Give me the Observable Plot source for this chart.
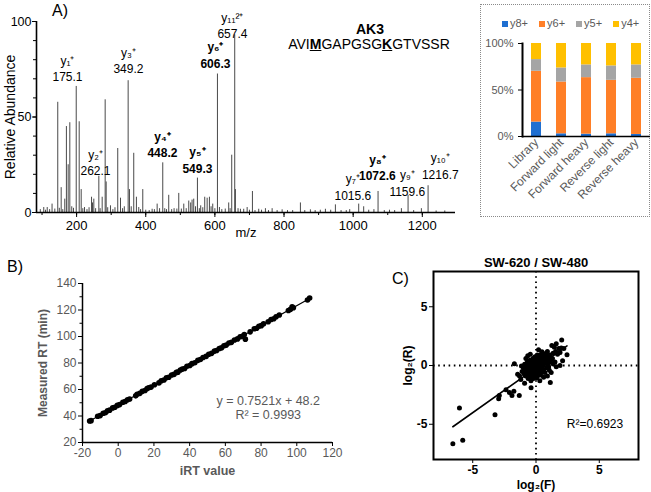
<!DOCTYPE html>
<html><head><meta charset="utf-8">
<script src="https://cdn.jsdelivr.net/npm/d3@7"></script>
<script src="https://cdn.jsdelivr.net/npm/@observablehq/plot@0.6"></script>
<style>
body{margin:0;background:#fff;}
#root{position:relative;width:651px;height:492px;overflow:hidden;font-family:"Liberation Sans",Arial,Helvetica,sans-serif;color:#000;}
.abs{position:absolute;}
.abs svg{display:block;}
.lbl{position:absolute;line-height:1;white-space:nowrap;}
</style></head><body><div id="root"></div>
<script>
const FONT = '"Liberation Sans", Arial, Helvetica, sans-serif';

// ---------- Panel A: MS/MS spectrum ----------
const peakMz = [95,105,110,115,122,129,137,145.5,150,155.4,160,165.8,170.5,175.6,180.4,186,191,198.9,207.5,213.3,218,222.9,230,236,243.2,246,249.8,255,264.3,268,274,282.6,285.5,290,298,305,311,319,327,333,338,349.1,352.9,358,365.3,373,379.8,385,391.4,400,410,418.5,425,433,440,449.2,455,460,466.5,475,482,490,495.5,503,510,517,524.4,530,534,538.8,544,549.5,555,559,565,570.6,577.6,584.2,589,593.8,600,607.4,613.2,620,630,640,644,648.7,657.4,659.4,667,673.9,683.4,693.3,700,708.6,716,726.8,735,746.2,755,765.6,780,794.5,810,825,847.4,860,876.3,890,905,919.7,935,948.6,965,980,990,1016,1030.4,1045,1060,1072,1090,1105,1120,1139.5,1158.8,1175,1197.3,1216.7,1240,1265];
const peakInt = [1.5,2.6,1.2,2.6,1.5,4.4,1.8,57.7,2.2,13,1.5,7,45,25,47,3,2.2,66,47.5,12,2,2.6,1.5,2.5,8,5,7,2,19,2,8,59,16,2.5,3.5,1.5,2.5,33.5,7.5,2,3,69,12,3,31,8,2.6,1.5,12,1.2,1,1.7,1.5,4.4,2,26,2,1.5,9,1.5,2,1.8,10,1.8,4.4,2,6,5,6.5,7,3,18,2,3.5,2.5,8,7.5,8,3,4.4,2,72.5,2.6,1.5,1.8,5,2,30,93,12,2,1.7,1.7,2.6,1.2,11,1,1.7,1.2,2,1,2,1,1.4,1,1,5,1,1.4,1,1.2,1.7,1.2,4,1,1,1.5,4.4,3,1.2,1.5,11,1,1.2,1,2,9,1,2,14,0.8,0.8];
const specTicksX = [200,400,600,800,1000,1200];
const specMinorX = [100,200,300,400,500,600,700,800,900,1000,1100,1200];
const specTicksY = [0,50,100];
const specMinorY = [0,10,20,30,40,50,60,70,80,90,100];
const ionNames = ["y₁⁺","y₂⁺","y₃⁺","y₄⁺","y₅⁺","y₆⁺","y₁₁²⁺","y₇⁺","y₈⁺","y₉⁺","y₁₀⁺"];
const ionMzText = ["175.1","262.1","349.2","448.2","549.3","606.3","657.4","1015.6","1072.6","1159.6","1216.7"];
const ionBold = [false,false,false,true,true,true,false,false,true,false,false];
// label anchor (m/z, relative abundance of the lower text line baseline)
const ionLabelMz = [173.6,254.6,350,448.3,549.5,601.6,650.7,999,1070,1156.6,1252];
const ionLabelAb = [68.6,19.4,72.8,28.8,20.9,75.9,91.1,6.8,16.8,8.9,17.8];

// ---------- Inset: fragment ion ratios ----------
const barCats = ["Library","Forward light","Forward heavy","Reverse light","Reverse heavy"];
const barSeries = ["y8+","y6+","y5+","y4+"];
const barColors = ["#1F6FD1","#FF7F27","#A5A5A5","#FFC000"];
const y8Vals = [15.5,2.9,2.5,2.9,2.2];
const y6Vals = [54.6,55.7,60.8,57.5,60.4];
const y5Vals = [12.6,15.1,13.7,15.5,14.4];
const y4Vals = [17.3,26.3,23.0,24.1,23.0];

// ---------- Panel B: iRT calibration ----------
const bIRT = [-16.0,-15.2,-11.5,-10.1,-8.4,-7.2,-6.0,-4.8,-3.1,-1.9,-0.5,0.8,2.6,3.9,5.2,6.4,9.8,10.6,12.1,13.5,15.0,16.2,17.1,18.4,20.3,22.8,24.1,25.6,27.0,28.3,29.9,31.2,32.6,33.4,34.8,35.9,37.2,38.5,40.1,41.3,42.9,44.6,46.0,47.5,49.2,50.7,52.3,53.9,55.1,56.6,57.8,59.2,60.5,62.0,63.4,65.1,66.8,68.3,69.5,70.6,71.2,73.9,76.2,77.5,78.8,80.1,81.4,84.0,85.6,87.1,88.4,90.2,95.3,96.5,97.4,98.1,106.0,107.2];
const bRT = [36.2,36.5,39.8,40.3,42.1,42.5,44.0,44.4,46.1,46.6,48.0,48.6,50.4,51.0,52.3,52.8,55.2,56.4,57.1,58.6,59.3,60.7,61.3,61.8,63.6,65.0,66.6,67.2,68.8,69.3,70.9,71.4,72.9,73.1,74.7,75.4,75.9,77.5,78.1,79.5,80.2,82.0,82.6,84.2,85.0,86.6,87.3,89.0,89.4,91.0,91.4,93.0,93.5,95.1,95.6,97.4,98.2,99.8,100.2,101.5,98.0,103.5,105.8,106.2,107.7,108.2,109.6,111.1,112.8,113.4,114.9,116.2,119.6,120.5,122.4,121.7,127.6,129.0];
const bTicksX = [-20,0,20,40,60,80,100,120];
const bTicksY = [20,40,60,80,100,120,140];
const bMinorY = [30,50,70,90,110,130];
const bEquation = "y = 0.7521x + 48.2\nR² = 0.9993";

// ---------- Panel C: log2 ratios ----------
const cF = [-6.57,-5.79,-6.05,-3.24,-2.95,-2.9,-2.37,-2.1,-1.75,-1.9,-1.32,-1.71,-1.45,-1.2,-0.39,1.13,-0.9,
 2.03,1.6,1.25,1.45,1.8,2.0,2.2,2.45,1.9,1.7,1.55,1.35,2.1,1.9,1.5,1.6,1.3,1.1,0.9,0.47,0.2,-0.65,-0.8,-0.45,1.2,0.9,0.6,0.3,-0.2,
 -1.1,-1.0,-0.95,-0.9,-0.85,-0.8,-0.75,-0.7,-0.68,-0.6,-0.58,-0.55,-0.5,-0.48,-0.45,-0.42,-0.4,-0.35,-0.33,-0.3,-0.28,-0.25,-0.22,-0.2,-0.18,-0.15,-0.12,-0.1,-0.08,-0.05,-0.03,0.0,0.02,0.05,0.07,0.1,0.12,0.15,0.18,0.2,0.22,0.25,0.28,0.3,0.33,0.35,0.38,0.4,0.43,0.45,0.48,0.5,0.55,0.58,0.6,0.65,0.68,0.7,0.75,0.8,0.85,0.9,0.95,1.0,1.05,1.1,1.2,-0.62,-0.15,0.05,0.25,-0.4,0.7,-1.3,-1.15,0.15,-0.5,0.6,0.35,-0.25,0.85,0.45,-0.05,1.35,1.0,-0.7,0.1,0.55];
const cR = [-6.65,-6.37,-3.62,-4.19,-2.83,-2.55,-2.07,-2.3,-2.2,-2.55,-2.55,0.14,-0.75,-1.2,-1.89,-1.44,-1.5,
 2.18,1.85,1.7,1.55,1.45,1.5,1.45,0.91,1.1,0.95,1.2,1.05,0.4,0.0,0.3,-0.1,0.6,0.9,1.2,1.17,1.35,0.82,0.6,0.95,-0.6,-0.9,-1.0,-1.3,-1.1,
 -0.5,-0.2,-0.7,0.1,-0.4,-0.9,-0.1,-0.55,0.3,-0.3,-0.8,0.05,-0.45,0.45,-0.15,-0.65,0.2,-0.35,-1.0,0.0,-0.55,0.6,-0.25,0.3,-0.7,-0.1,-0.45,0.15,0.75,-0.3,-0.85,0.05,-0.15,0.4,-0.5,-0.05,0.2,-0.3,0.6,-0.7,0.05,-0.2,0.35,-0.45,0.9,0.1,-0.1,0.5,-0.6,0.25,-0.25,0.7,0.0,0.4,-0.35,0.15,0.85,-0.6,0.3,0.6,-0.2,0.45,0.1,0.75,-0.4,0.3,0.5,-1.1,0.45,-1.05,0.8,-1.3,1.0,-0.9,-0.05,-0.85,-0.05,0.55,-0.8,-0.9,0.9,1.0,0.55,0.15,-0.1,0.0,0.9,-0.5];
const cTicks = [-5,0,5];

const root = document.getElementById("root");
const plain = d => String(d);
function place(node, left, top, w, h){
  const d = document.createElement("div");
  d.className = "abs";
  d.style.left = left+"px"; d.style.top = top+"px";
  d.style.width = w+"px"; d.style.height = h+"px";
  d.appendChild(node); root.appendChild(d); return d;
}
function label(html, left, top, size, extra){
  const d = document.createElement("div");
  d.className = "lbl";
  d.style.left = left+"px"; d.style.top = top+"px"; d.style.fontSize = size+"px";
  if (extra) d.style.cssText += extra;
  d.innerHTML = html; root.appendChild(d); return d;
}
const baseStyle = {fontFamily: FONT, background: "transparent", color: "#000", overflow: "visible"};

// ---- A ----
const spectrum = peakMz.map((mz,i)=>({mz, ab: peakInt[i]}));
const ions = ionNames.map((n,i)=>({text: n+"\n"+ionMzText[i], x: ionLabelMz[i], y: ionLabelAb[i], bold: ionBold[i]}));
const plotA = Plot.plot({
  width: 470, height: 245, marginLeft: 36, marginRight: 15, marginTop: 21, marginBottom: 33,
  style: {...baseStyle, fontSize: "13px"},
  x: {domain: [84, 1296]}, y: {domain: [0, 100]},
  marks: [
    Plot.ruleX(spectrum, {x: "mz", y1: 0, y2: "ab", stroke: "#4a4a4a", strokeWidth: 1}),
    Plot.axisX({ticks: specMinorX, tickSize: 3, tickFormat: () => "", label: null}),
    Plot.axisX({ticks: specTicksX, tickSize: 5, tickPadding: 3, tickFormat: plain, fontSize: 13, label: null}),
    Plot.axisY({ticks: specMinorY, tickSize: 3, tickFormat: () => "", label: null}),
    Plot.axisY({ticks: specTicksY, tickSize: 4, tickPadding: 1, tickFormat: plain, fontSize: 12.5, label: null}),
    Plot.ruleY([0], {strokeWidth: 1.6}),
    Plot.ruleX([84], {strokeWidth: 1.6}),
    Plot.text(ions.filter(d => !d.bold), {x: "x", y: "y", text: "text", lineAnchor: "bottom", lineHeight: 1.35, fontSize: 12}),
    Plot.text(ions.filter(d => d.bold), {x: "x", y: "y", text: "text", lineAnchor: "bottom", lineHeight: 1.35, fontSize: 12, fontWeight: "bold"}),
    Plot.text(["m/z"], {frameAnchor: "bottom", textAnchor: "middle", lineAnchor: "middle", dy: 20, fontSize: 13}),
    Plot.text(["Relative Abundance"], {frameAnchor: "left", textAnchor: "middle", lineAnchor: "middle", dx: -26, rotate: -90, fontSize: 14})
  ]
});
place(plotA, 0, 0, 470, 245);
label("<b>AK3</b>", 320, 22, 14, "width:100px;text-align:center;");
label("AVI<b><u>M</u></b>GAPGSG<b><u>K</u></b>GTVSSR", 269, 37, 14, "width:200px;text-align:center;");
label("A)", 52, 2.5, 16);

// ---- Inset ----
const barVals = [y8Vals, y6Vals, y5Vals, y4Vals];
const barRows = [];
barCats.forEach((c, i) => barSeries.forEach((s, j) => barRows.push({cat: c, s, v: barVals[j][i]})));
const box = document.createElement("div");
box.style.cssText = "position:absolute;left:480px;top:4px;width:170px;height:213px;box-sizing:border-box;border:1px dotted #8a8a8a;";
root.appendChild(box);
const plotI = Plot.plot({
  width: 170, height: 213, marginLeft: 42, marginRight: 0, marginTop: 39, marginBottom: 81,
  style: {...baseStyle, fontSize: "11px"},
  x: {domain: barCats, paddingInner: 0.61, paddingOuter: 0.31},
  y: {domain: [0, 100]},
  color: {domain: barSeries, range: barColors},
  marks: [
    Plot.barY(barRows, {x: "cat", y: "v", fill: "s"}),
    Plot.axisY({ticks: [0, 50, 100], tickFormat: d => d + "%", tickSize: 4, tickPadding: 5, fill: "#595959", fontSize: 11, label: null}),
    Plot.axisX({tickSize: 0, tickRotate: -45, tickPadding: 4, fill: "#595959", fontSize: 12, label: null}),
    Plot.ruleY([0], {strokeWidth: 1.5}),
    Plot.frame({anchor: "left", strokeWidth: 2})
  ]
});
place(plotI, 480, 4, 170, 213);
const leg = document.createElement("div");
leg.style.cssText = "position:absolute;left:502px;top:17px;display:flex;gap:11px;font-size:11px;color:#595959;line-height:13px;";
barSeries.forEach((s, i) => {
  const it = document.createElement("span");
  it.style.cssText = "display:flex;align-items:center;gap:2px;";
  const sq = document.createElement("span");
  sq.style.cssText = "display:inline-block;width:6px;height:6px;background:" + barColors[i] + ";";
  it.append(sq, s); leg.append(it);
});
root.appendChild(leg);

// ---- B ----
const bData = bIRT.map((x, i) => ({irt: x, rt: bRT[i]}));
const plotB = Plot.plot({
  width: 340, height: 272, marginLeft: 82, marginRight: 8, marginTop: 63, marginBottom: 50,
  style: {...baseStyle, fontSize: "12px"},
  x: {domain: [-20, 120]}, y: {domain: [20, 140]},
  marks: [
    Plot.axisY({ticks: bMinorY, tickSize: 2.5, tickFormat: () => "", label: null}),
    Plot.axisY({ticks: bTicksY, tickSize: 4, tickPadding: 2, tickFormat: plain, fill: "#595959", stroke: "#000", fontSize: 12, label: null}),
    Plot.axisX({ticks: bTicksX, tickSize: 4, tickPadding: 2, tickFormat: plain, fill: "#595959", stroke: "#000", fontSize: 12, label: null}),
    Plot.ruleX([-20], {strokeWidth: 1.5}),
    Plot.ruleY([20], {strokeWidth: 1.5}),
    Plot.linearRegressionY(bData, {x: "irt", y: "rt", stroke: "#000", strokeWidth: 1.2, ci: 0}),
    Plot.dot(bData, {x: "irt", y: "rt", r: 2.8, fill: "#000"}),
    Plot.text(["Measured RT (min)"], {frameAnchor: "left", textAnchor: "middle", lineAnchor: "middle", dx: -39, rotate: -90, fontWeight: "bold", fill: "#595959", fontSize: 12}),
    Plot.text(["iRT value"], {frameAnchor: "bottom", textAnchor: "middle", lineAnchor: "middle", dy: 28, fontWeight: "bold", fill: "#595959", fontSize: 12.5}),
    Plot.text([bEquation], {x: 84, y: 38, lineAnchor: "bottom", lineHeight: 1.1, fill: "#595959", fontSize: 12.5})
  ]
});
place(plotB, 0, 220, 340, 272);
label("B)", 7, 258.5, 16);

// ---- C ----
const cData = cF.map((f, i) => ({f, r: cR[i]}));
const plotC = Plot.plot({
  width: 271, height: 252, marginLeft: 53, marginRight: 13, marginTop: 31, marginBottom: 33,
  style: {...baseStyle, fontSize: "12px"},
  x: {domain: [-8.1, 8.1]}, y: {domain: [-8, 8]},
  marks: [
    Plot.ruleX([0], {strokeDasharray: "1.6,3.6", strokeWidth: 1.8}),
    Plot.ruleY([0], {strokeDasharray: "1.6,3.6", strokeWidth: 1.8}),
    Plot.linearRegressionY(cData, {x: "f", y: "r", stroke: "#000", strokeWidth: 1.6, ci: 0}),
    Plot.dot(cData, {x: "f", y: "r", r: 2.5, fill: "#000"}),
    Plot.frame({strokeWidth: 2}),
    Plot.axisX({ticks: cTicks, tickSize: 4, tickPadding: 2, tickFormat: plain, fontWeight: "bold", fontSize: 12, label: null}),
    Plot.axisY({ticks: cTicks, tickSize: 4, tickPadding: 2, tickFormat: plain, fontWeight: "bold", fontSize: 12, label: null}),
    Plot.text(["SW-620 / SW-480"], {frameAnchor: "top", textAnchor: "middle", lineAnchor: "middle", dy: -9, fontWeight: "bold", fontSize: 13}),
    Plot.text(["log₂(R)"], {frameAnchor: "left", textAnchor: "middle", lineAnchor: "middle", dx: -25, rotate: -90, fontWeight: "bold", fontSize: 12}),
    Plot.text(["log₂(F)"], {frameAnchor: "bottom", textAnchor: "middle", lineAnchor: "middle", dy: 26, fontWeight: "bold", fontSize: 12}),
    Plot.text(["R²=0.6923"], {x: 4.66, y: -5.29, lineAnchor: "bottom", fontSize: 12})
  ]
});
place(plotC, 380, 240, 271, 252);
label("C)", 392, 270.5, 16);
</script></body></html>
